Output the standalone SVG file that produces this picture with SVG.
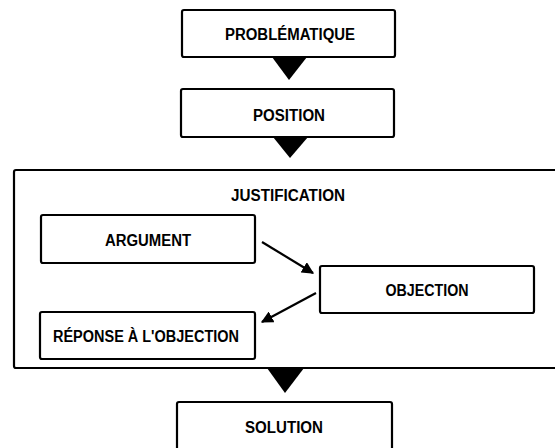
<svg xmlns="http://www.w3.org/2000/svg" width="555" height="448" viewBox="0 0 555 448">
<style>
.box{fill:#fff;stroke:#000;stroke-width:2.2}
.frame{fill:none;stroke:#000;stroke-width:2.2}
.lbl{font-family:"Liberation Sans",Arial,sans-serif;font-weight:bold;font-size:16px;fill:#000;text-anchor:middle}
.tri{fill:#000}
.conn{stroke:#000;stroke-width:2.2;fill:none}
</style>
<defs>
<marker id="ah" viewBox="0 0 10 10" refX="9" refY="5" markerWidth="5.5" markerHeight="5.5" orient="auto" markerUnits="strokeWidth">
<path d="M0,0 L10,5 L0,10 z" fill="#000"/>
</marker>
</defs>
<rect width="555" height="448" fill="#fff"/>
<g id="justification">
<rect class="frame" x="14" y="170" width="560" height="198" rx="2"/>
<text class="lbl" x="288" y="201" textLength="114" lengthAdjust="spacingAndGlyphs">JUSTIFICATION</text>
</g>
<g id="problematique">
<rect class="box" x="182" y="10" width="213" height="47" rx="2"/>
<text class="lbl" x="290" y="40" textLength="130" lengthAdjust="spacingAndGlyphs">PROBLÉMATIQUE</text>
</g>
<g id="position">
<rect class="box" x="181" y="89" width="213" height="48" rx="2"/>
<text class="lbl" x="289" y="121" textLength="72" lengthAdjust="spacingAndGlyphs">POSITION</text>
</g>
<g id="argument">
<rect class="box" x="41" y="215" width="214" height="48" rx="2"/>
<text class="lbl" x="148" y="246" textLength="86" lengthAdjust="spacingAndGlyphs">ARGUMENT</text>
</g>
<g id="objection">
<rect class="box" x="320" y="266" width="214" height="47" rx="2"/>
<text class="lbl" x="427" y="296" textLength="83" lengthAdjust="spacingAndGlyphs">OBJECTION</text>
</g>
<g id="reponse">
<rect class="box" x="40" y="312" width="215" height="47" rx="2"/>
<text class="lbl" x="146" y="342" textLength="186" lengthAdjust="spacingAndGlyphs">RÉPONSE À L'OBJECTION</text>
</g>
<g id="solution">
<rect class="box" x="177" y="402" width="215" height="52" rx="2"/>
<text class="lbl" x="284" y="433" textLength="78" lengthAdjust="spacingAndGlyphs">SOLUTION</text>
</g>
<g id="connectors">
<polygon class="tri" points="272,57 307,57 289,80"/>
<polygon class="tri" points="273,137 308,137 290,158"/>
<polygon class="tri" points="267,368 304,368 285,393"/>
<line class="conn" x1="262" y1="242" x2="313" y2="273" marker-end="url(#ah)"/>
<line class="conn" x1="316" y1="293" x2="262" y2="322" marker-end="url(#ah)"/>
</g>
</svg>
